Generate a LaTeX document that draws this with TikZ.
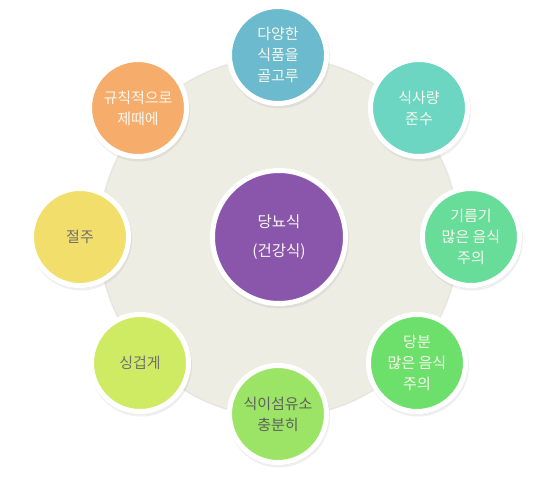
\documentclass[tikz,border=0pt]{standalone}
\usepackage{fontspec}
\newfontfamily\krfont{Noto Sans CJK KR}
\usepackage{xcolor}
\usetikzlibrary{shadows}

\definecolor{plate}{RGB}{238,237,228}
\definecolor{cream}{RGB}{248,248,238}
\definecolor{greyink}{RGB}{112,112,112}
\definecolor{purplec}{RGB}{138,86,171}
\definecolor{bluec}{RGB}{107,186,206}
\definecolor{tealc}{RGB}{108,214,195}
\definecolor{mintc}{RGB}{104,221,154}
\definecolor{greenc}{RGB}{109,224,108}
\definecolor{limec}{RGB}{155,228,102}
\definecolor{yellowgreenc}{RGB}{207,234,99}
\definecolor{yellowc}{RGB}{242,222,106}
\definecolor{orangec}{RGB}{246,172,106}

\begin{document}
\begin{tikzpicture}[x=1pt,y=-1pt,
  dish/.style={circle,draw=white,line width=5pt,minimum size=97pt,inner sep=0pt,align=center,
    text=cream,font=\krfont\fontsize{15}{21}\selectfont,
    drop shadow={shadow xshift=1pt,shadow yshift=-2.5pt,opacity=0.14,fill=black!45,draw=black!45,line width=5pt}},
  hub/.style={dish,minimum size=133pt,fill=purplec,font=\krfont\fontsize{15.5}{29}\selectfont}]
  \useasboundingbox (0,0) rectangle (555,481);
  \node[circle,fill=plate,draw=plate!90!black,draw opacity=0.4,line width=1.5pt,minimum size=360pt] (bg) at (279,237) {};
  \node[hub] (diet) at (279,237) {당뇨식\\(건강식)};
  \node[dish,fill=bluec] (variety) at (278,55) {다양한\\식품을\\골고루};
  \node[dish,fill=tealc] (amount) at (419,108) {식사량\\준수};
  \node[dish,fill=mintc] (fat) at (471,237) {기름기\\많은 음식\\주의};
  \node[dish,fill=greenc] (sugar) at (417,363) {당분\\많은 음식\\주의};
  \node[dish,fill=limec,text=greyink!85!black] (fiber) at (278,414) {식이섬유소\\충분히};
  \node[dish,fill=yellowgreenc,text=greyink] (salt) at (140,363) {싱겁게};
  \node[dish,fill=yellowc,text=greyink] (alcohol) at (80,237) {절주};
  \node[dish,fill=orangec] (regular) at (138,108) {규칙적으로\\제때에};
\end{tikzpicture}
\end{document}
